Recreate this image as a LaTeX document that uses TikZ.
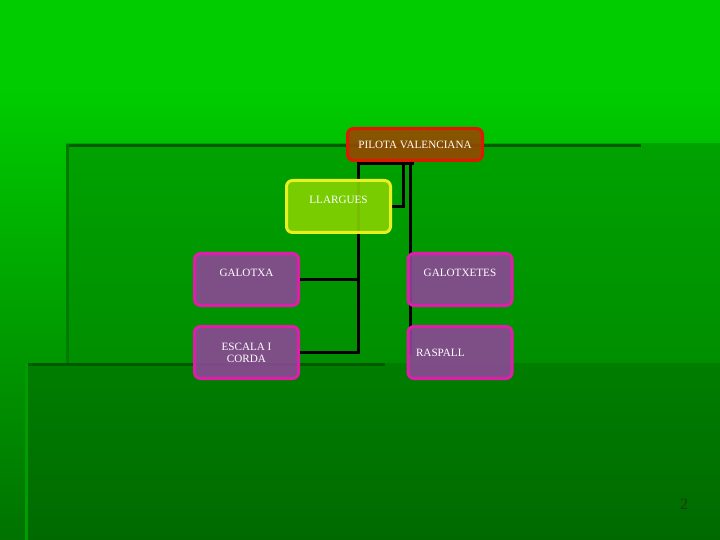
\documentclass[tikz,border=0pt]{standalone}
\usepackage{fontspec}
\setmainfont{Liberation Serif}
\usetikzlibrary{calc}

\definecolor{topgreen}{HTML}{00CC00}
\definecolor{fadegreen}{HTML}{007200}
\definecolor{midgreen}{HTML}{00A200}
\definecolor{lowgreen}{HTML}{007E00}
\definecolor{deepgreen}{HTML}{006A00}
\definecolor{rulegreen}{HTML}{005A00}
\definecolor{rootfill}{HTML}{964800}
\definecolor{rootdraw}{HTML}{DD1A00}
\definecolor{limefill}{HTML}{86D200}
\definecolor{limedraw}{HTML}{E8F020}
\definecolor{plumfill}{HTML}{8C4896}
\definecolor{plumdraw}{HTML}{E01CAA}
\definecolor{pagenum}{HTML}{1A3A10}

\pgfdeclarelayer{back}
\pgfdeclarelayer{wires}
\pgfsetlayers{back,wires,main}

\begin{document}
\begin{tikzpicture}[
    x=1bp, y=-1bp,
    box/.style={rectangle,rounded corners=6bp,line width=3bp,inner sep=0pt,
        minimum width=104bp,minimum height=52bp,fill opacity=0.9,text opacity=1,
        text=white,font=\fontsize{11.2}{12}\selectfont,align=center},
    root box/.style={box,fill=rootfill,draw=rootdraw,minimum width=135bp,minimum height=32bp},
    lime box/.style={box,fill=limefill,draw=limedraw},
    plum box/.style={box,fill=plumfill,draw=plumdraw},
    top text/.style={text height=7.4bp,text depth=14bp},
    link/.style={black,line width=3bp}
]

% Fons (tres plans de verd)
\begin{pgfonlayer}{back}
\fill[topgreen] (0,0) rectangle (720,91);
\shade[top color=topgreen,bottom color=fadegreen] (0,90) rectangle (720,540);
\shade[top color=midgreen,bottom color=lowgreen] (66,144) rectangle (720,540);
\shade[top color=lowgreen,bottom color=deepgreen] (25,363) rectangle (720,540);
\fill[rulegreen] (66,144) rectangle (641,147);
\fill[rulegreen!80!green] (66,144) rectangle (69,363);
\fill[rulegreen] (25,363) rectangle (385,366);
\fill[rulegreen!60!green] (25,363) rectangle (28,540);
\end{pgfonlayer}

% Caixes
\node[root box] (pilota) at (415,144.5) {PILOTA VALENCIANA};
\node[lime box,top text] (llargues) at (338.5,206.5) {LLARGUES};
\node[plum box,top text] (galotxa) at (246.5,279.5) {GALOTXA};
\node[plum box,top text] (galotxetes) at (460,279.5) {GALOTXETES};
\node[plum box] (escala) at (246.5,352.5) {ESCALA I\\CORDA};
\node[plum box,align=left,inner xsep=8bp,text width=88bp,
      text height=8bp,text depth=0pt] (raspall) at (460,352.5) {RASPALL};

% Connectors
\begin{pgfonlayer}{wires}
\draw[link] ([xshift=-58.5bp,yshift=-2bp]pilota.south) -- ([xshift=-1bp,yshift=-2bp]pilota.south);
\draw[link] ([xshift=-57bp]pilota.south) |- (escala.east);
\draw[link] (galotxa.east) -- ([xshift=-57bp]pilota.south |- galotxa.east);
\draw[link] ([xshift=-12bp]pilota.south) |- (llargues.east);
\draw[link] ([xshift=-5bp]pilota.south) -- ([xshift=-5bp,yshift=-2bp]pilota.south |- raspall.east);
\end{pgfonlayer}

% Numero de pagina
\node[text=pagenum,font=\fontsize{16}{18}\selectfont] (page) at (684,504) {2};

\end{tikzpicture}
\end{document}
